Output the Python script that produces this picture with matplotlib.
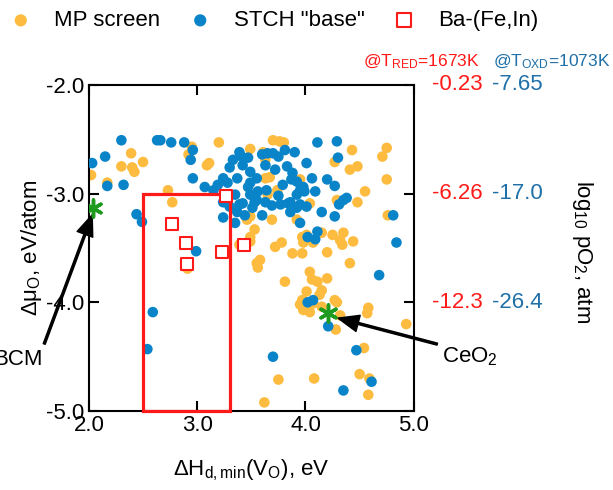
import matplotlib
matplotlib.use("Agg")
import matplotlib.pyplot as plt
from matplotlib.patches import Rectangle

plt.rcParams['font.family'] = ['Liberation Sans', 'DejaVu Sans']
plt.rcParams['mathtext.fontset'] = 'custom'
plt.rcParams['mathtext.rm'] = 'Liberation Sans'
plt.rcParams['mathtext.it'] = 'Liberation Sans:italic'
plt.rcParams['axes.unicode_minus'] = False

# MP screen (orange)
mp_x = [2.02, 2.17, 2.30, 2.39, 2.40, 2.42, 2.50, 2.73, 2.77, 2.92, 3.20, 3.09, 3.11, 2.95,
        3.49, 3.70, 3.76, 3.80, 3.63, 3.67, 3.65, 3.74, 3.63, 3.61, 4.27, 4.43, 4.75, 4.71,
        4.41, 4.48, 4.75, 4.55, 4.48, 4.29, 3.95, 4.04, 4.76, 3.53, 3.49, 3.78, 3.72, 3.97,
        4.01, 4.25, 4.35, 4.44, 4.32, 3.46, 3.49, 3.69, 3.49, 3.39, 3.98, 3.88, 3.97, 3.58,
        3.56, 3.81, 3.97, 3.92, 2.91, 2.90, 4.07, 4.15, 4.20, 4.34, 4.41, 4.04, 4.06, 4.11,
        4.20, 4.01, 4.15, 4.13, 4.27, 4.07, 3.95, 3.98, 4.04, 4.15, 4.29, 4.32, 4.28, 4.58,
        4.57, 4.93, 4.54, 3.75, 4.08, 4.50, 4.59, 4.58, 3.62, 3.55]
mp_y = [-2.83, -2.90, -2.75, -2.63, -2.76, -2.80, -2.71, -2.97, -3.08, -2.64, -2.53, -2.74,
        -2.72, -2.57, -2.59, -2.51, -2.52, -2.53, -2.86, -2.85, -3.01, -2.97, -2.69, -2.62,
        -2.71, -2.60, -2.58, -2.66, -2.78, -2.75, -2.87, -2.98, -3.08, -3.06, -2.87, -3.09,
        -3.20, -3.33, -3.40, -3.45, -3.49, -3.40, -3.38, -3.38, -3.36, -3.44, -3.43, -3.24,
        -3.21, -3.24, -3.44, -3.47, -3.45, -3.55, -3.55, -3.61, -3.68, -3.81, -3.98, -3.24,
        -3.69, -3.47, -3.45, -3.36, -3.54, -3.47, -3.64, -3.72, -3.79, -3.81, -3.78, -3.90,
        -3.89, -3.93, -3.98, -4.01, -4.02, -4.07, -4.09, -4.04, -4.00, -4.12, -4.25, -4.05,
        -4.10, -4.20, -4.42, -4.71, -4.70, -4.66, -4.70, -4.85, -4.92, -3.64]

# STCH "base" (blue)
stch_x = [2.03, 2.15, 2.30, 2.63, 2.66, 2.76, 2.88, 2.96, 2.94, 2.96, 2.17, 2.32, 2.44, 2.49,
          3.07, 3.24, 2.99, 2.59, 2.54, 3.19, 3.24, 3.30, 3.33, 3.41, 3.42, 3.47, 3.49, 3.55,
          3.60, 3.65, 3.75, 3.81, 3.83, 3.88, 3.92, 3.35, 3.39, 3.47, 3.56, 3.53, 3.63, 3.86,
          3.92, 3.86, 3.95, 3.70, 3.90, 4.01, 4.11, 4.29, 4.30, 3.87, 4.06, 4.20, 4.27, 3.95,
          3.99, 4.09, 3.84, 3.92, 4.01, 4.15, 4.27, 4.35, 4.38, 3.95, 4.81, 4.84, 4.02, 4.11,
          3.64, 3.49, 3.55, 3.51, 3.35, 3.30, 3.42, 3.98, 4.31, 4.09, 4.68, 4.02, 4.07, 4.21,
          3.70, 4.47, 4.61, 4.35, 3.15, 3.26, 3.37, 3.44, 3.60, 3.69, 3.75, 3.79, 3.72, 3.63,
          3.37, 3.28, 3.39, 3.24, 3.77, 3.49]
stch_y = [-2.72, -2.66, -2.51, -2.51, -2.51, -2.53, -2.53, -2.60, -2.69, -2.86, -2.93, -2.92,
          -3.19, -3.26, -2.94, -3.22, -3.53, -4.09, -4.43, -2.92, -2.86, -2.76, -2.69, -2.66,
          -2.74, -2.67, -2.80, -2.86, -2.64, -2.63, -2.66, -2.60, -2.75, -2.81, -2.89, -3.01,
          -3.10, -2.94, -2.98, -3.08, -3.08, -3.08, -3.01, -3.17, -3.10, -2.63, -2.62, -2.72,
          -2.53, -2.52, -2.67, -2.87, -2.86, -2.87, -2.93, -2.97, -2.98, -2.98, -3.09, -3.13,
          -3.12, -3.17, -3.21, -3.06, -3.04, -3.27, -3.20, -3.45, -3.40, -3.35, -2.97, -2.90,
          -3.06, -3.13, -3.27, -3.12, -3.09, -2.94, -3.10, -3.42, -3.75, -4.00, -3.98, -4.22,
          -4.50, -4.44, -4.73, -4.81, -2.97, -3.04, -3.17, -3.20, -3.20, -3.11, -3.02, -2.92,
          -2.78, -2.74, -2.86, -2.90, -2.62, -3.08, -3.10, -3.01]

# Ba-(Fe,In)
ba_x = [3.27, 2.77, 2.90, 2.91, 3.23, 3.43]
ba_y = [-3.02, -3.28, -3.45, -3.65, -3.54, -3.47]

# highlighted references
ref_names = ['BCM', 'CeO$_\\mathrm{2}$']
ref_x = [2.04, 4.21]
ref_y = [-3.13, -4.10]

yticks = [-2.0, -3.0, -4.0]
red_labels = ['-0.23', '-6.26', '-12.3']
blue_labels = ['-7.65', '-17.0', '-26.4']

orange = '#fdbb3f'
blue = '#0a84c8'
red = '#ff1a1a'
tblue = '#1f6fa8'

fig = plt.figure(figsize=(6.13, 4.9), dpi=100)
ax = fig.add_axes([0.145, 0.161, 0.530, 0.666])

ax.scatter(mp_x, mp_y, s=58, color=orange, edgecolors='none', zorder=2, label='MP screen')
ax.scatter(stch_x, stch_y, s=58, color=blue, edgecolors='none', zorder=3, label='STCH "base"')
ax.scatter(ba_x, ba_y, s=70, marker='s', facecolors='white', edgecolors=red,
           linewidths=1.5, zorder=5, label='Ba-(Fe,In)')
ax.add_patch(Rectangle((2.5, -5.0), 0.8, 2.0, fill=False, edgecolor=red, lw=2.3,
                       zorder=4, clip_on=False))
ax.scatter(ref_x, ref_y, s=150, marker=(6, 2, 0), color='#1e9a1e', linewidths=2.5, zorder=6)

ax.annotate(ref_names[0], xy=(ref_x[0], ref_y[0] - 0.04), xytext=(1.34, -4.53),
            fontsize=16, ha='center', va='center', annotation_clip=False,
            arrowprops=dict(facecolor='black', edgecolor='black', width=1.5,
                            headwidth=12, headlength=15, shrink=0.02))
ax.annotate(ref_names[1], xy=(ref_x[1] + 0.07, ref_y[1] - 0.04), xytext=(5.52, -4.50),
            fontsize=16, ha='center', va='center', annotation_clip=False,
            arrowprops=dict(facecolor='black', edgecolor='black', width=1.5,
                            headwidth=12, headlength=15, shrink=0.02))

ax.set_xlim(2.0, 5.0)
ax.set_ylim(-5.0, -2.0)
ax.set_xticks([2.0, 3.0, 4.0, 5.0])
ax.set_yticks([-2.0, -3.0, -4.0, -5.0])
ax.set_xticklabels(['2.0', '3.0', '4.0', '5.0'])
ax.set_yticklabels(['-2.0', '-3.0', '-4.0', '-5.0'])
ax.tick_params(direction='in', length=7, width=1.5, labelsize=16, top=True, right=True, pad=3)
for sp in ax.spines.values():
    sp.set_linewidth(1.5)

ax.set_xlabel('ΔH$_\\mathrm{d,min}$(V$_\\mathrm{O}$), eV', fontsize=16, labelpad=15)
ax.set_ylabel('Δμ$_\\mathrm{O}$, eV/atom', fontsize=16, labelpad=2)

for yv, rl, bl in zip(yticks, red_labels, blue_labels):
    ax.text(1.055, yv, rl, color=red, fontsize=16, ha='left', va='center',
            transform=ax.get_yaxis_transform())
    ax.text(1.24, yv, bl, color=tblue, fontsize=16, ha='left', va='center',
            transform=ax.get_yaxis_transform())
ax.text(0.845, 1.07, '@T$_\\mathrm{RED}$=1673K', color=red, fontsize=12.5,
        ha='left', va='center', transform=ax.transAxes)
ax.text(1.245, 1.07, '@T$_\\mathrm{OXD}$=1073K', color=tblue, fontsize=12.5,
        ha='left', va='center', transform=ax.transAxes)
ax.text(1.52, 0.49, 'log$_\\mathrm{10}$ pO$_\\mathrm{2}$, atm', fontsize=16, rotation=270,
        ha='center', va='center', transform=ax.transAxes)

fig.legend(loc='upper left', bbox_to_anchor=(-0.035, 1.02), ncol=3, frameon=False,
           fontsize=16, handletextpad=0.5, columnspacing=0.8, markerscale=1.15)

fig.savefig('out.png', dpi=100)
